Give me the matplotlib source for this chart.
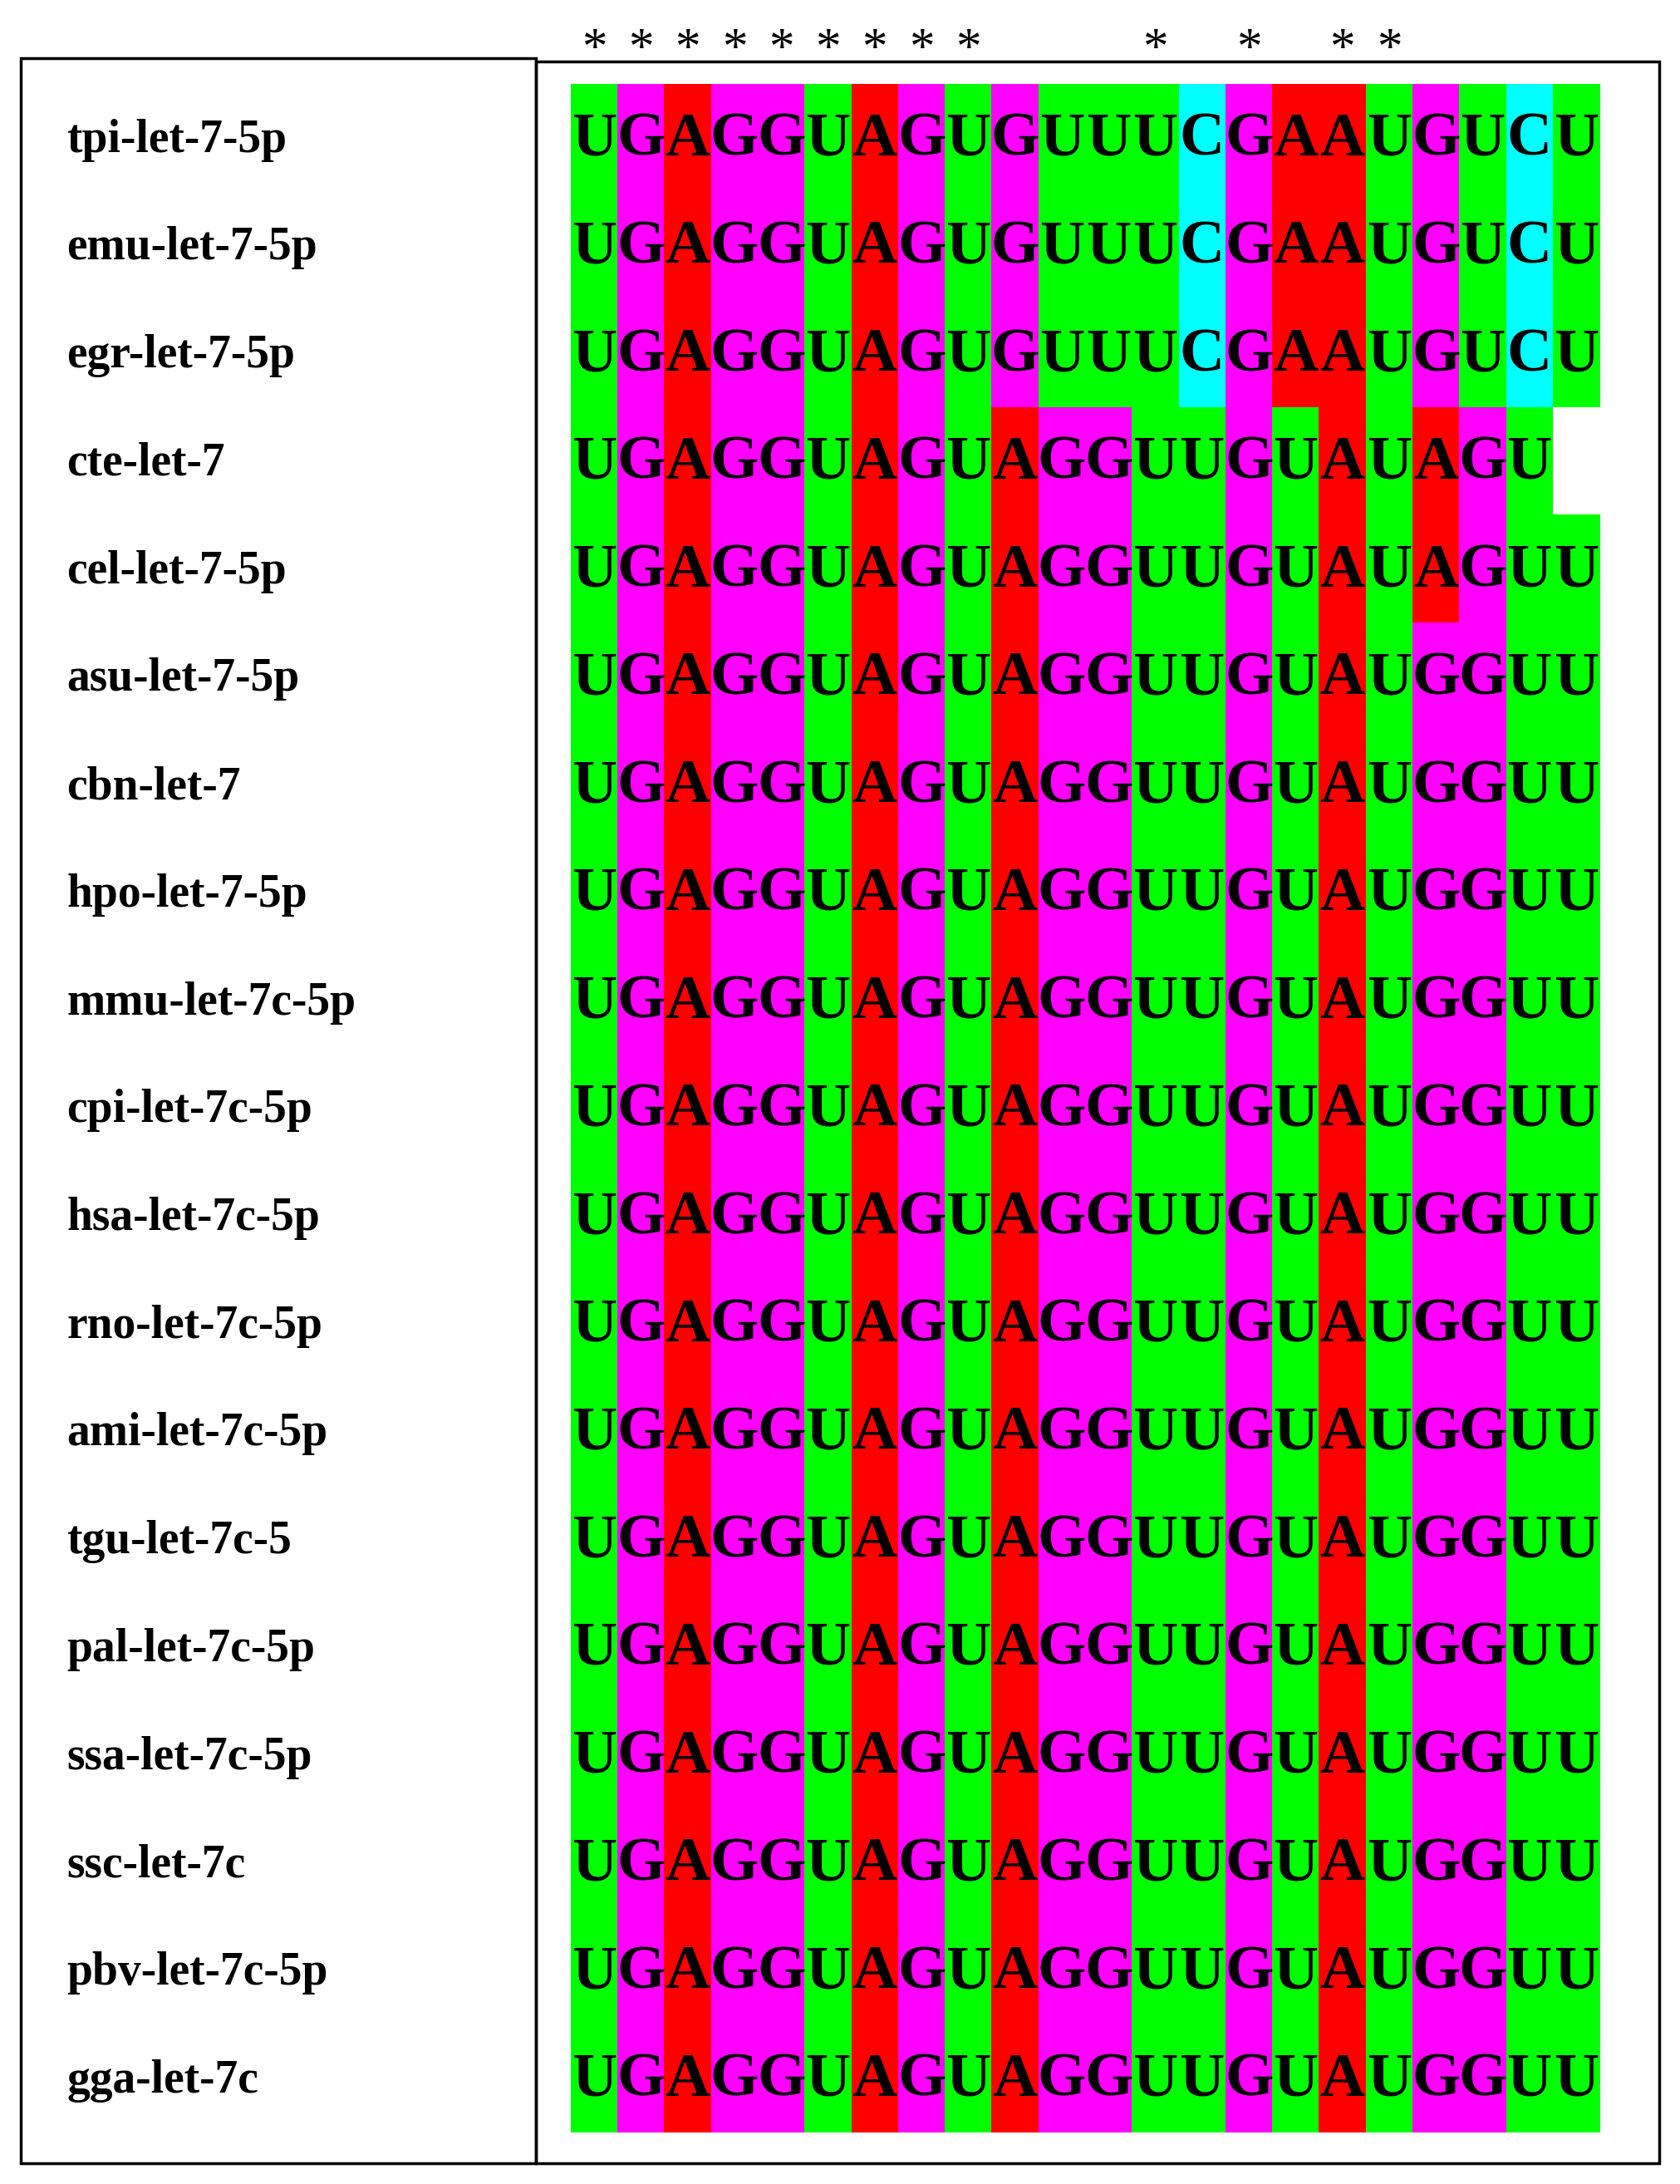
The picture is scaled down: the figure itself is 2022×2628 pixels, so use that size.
import matplotlib
matplotlib.use("Agg")
from matplotlib import pyplot as plt
from matplotlib.patches import Rectangle

names = ["tpi-let-7-5p", "emu-let-7-5p", "egr-let-7-5p", "cte-let-7", "cel-let-7-5p",
         "asu-let-7-5p", "cbn-let-7", "hpo-let-7-5p", "mmu-let-7c-5p", "cpi-let-7c-5p",
         "hsa-let-7c-5p", "rno-let-7c-5p", "ami-let-7c-5p", "tgu-let-7c-5", "pal-let-7c-5p",
         "ssa-let-7c-5p", "ssc-let-7c", "pbv-let-7c-5p", "gga-let-7c"]
seq_a = "UGAGGUAGUGUUUCGAAUGUCU"
seq_c = "UGAGGUAGUAGGUUGUAUGGUU"
seqs = [seq_a, seq_a, seq_a, "UGAGGUAGUAGGUUGUAUAGU", "UGAGGUAGUAGGUUGUAUAGUU"] + [seq_c] * 14
conserved = [0, 1, 2, 3, 4, 5, 6, 7, 8, 12, 14, 16, 17]

colors = {"U": "#00ff00", "G": "#ff00ff", "A": "#ff0000", "C": "#00ffff"}

W, H = 1207, 1568
fig = plt.figure(figsize=(20.22, 26.28), dpi=100)
ax = fig.add_axes([0, 0, 1, 1])
ax.set_xlim(0, W)
ax.set_ylim(H, 0)
ax.axis("off")

x0, cw = 410, 33.6
y0, rh = 60, 77.4
serif = ["Liberation Serif", "DejaVu Serif"]

# frames
ax.add_patch(Rectangle((15, 42), 370, 1511, fill=False, lw=2.5, ec="black"))
ax.add_patch(Rectangle((385, 44), 807, 1509, fill=False, lw=2.5, ec="black"))

for r, (nm, s) in enumerate(zip(names, seqs)):
    y = y0 + r * rh
    ax.text(48, y + rh / 2 + 2, nm, fontsize=40, fontweight="bold", family=serif,
            ha="left", va="center")
    for c, ch in enumerate(s):
        x = x0 + c * cw
        ax.add_patch(Rectangle((x, y), cw + 0.3, rh + 0.3, fc=colors[ch], ec="none"))
        ax.text(x + cw / 2, y + rh / 2 + 2, ch, fontsize=54, fontweight="bold",
                family=serif, ha="center", va="center")

for c in conserved:
    ax.text(x0 + c * cw + cw / 2, 36, "*", fontsize=44, family=serif,
            ha="center", va="center")

fig.savefig("out.png", dpi=100)
